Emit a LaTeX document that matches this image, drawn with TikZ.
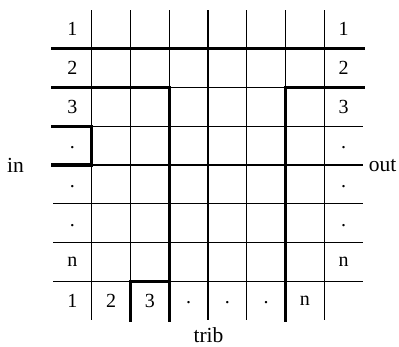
\documentclass[tikz,border=0pt]{standalone}
\usepackage{fontspec}
\setmainfont{Liberation Serif}
\begin{document}
\begin{tikzpicture}[x=1pt,y=-1pt,
  thin grid/.style={line width=1.2pt},
  thick path/.style={line width=3.2pt,line cap=rect,line join=miter},
  celltext/.style={font=\fontsize{20}{24}\selectfont,inner sep=0pt},
  dottext/.style={font=\fontsize{20}{24}\selectfont,inner sep=0pt,anchor=base},
  lbl/.style={font=\fontsize{21.5}{26}\selectfont,inner sep=0pt,anchor=base}]
\useasboundingbox (0,0) rectangle (399,346);
\foreach \i in {0,...,8}{
  \foreach \j in {0,...,8}{
    \coordinate (g-\i-\j) at ({53+38.75*\i},{10+38.75*\j});
  }
}
% thin grid
\foreach \i in {1,...,7}{
  \draw[thin grid] (g-\i-0) -- (g-\i-8);
  \draw[thin grid] (g-0-\i) -- (g-8-\i);
}
% thick paths
\draw[thick path] (g-0-1) -- (g-8-1);
\draw[thick path] (g-0-2) -- (g-3-2) -- (g-3-8);
\draw[thick path] (g-8-2) -- (g-6-2) -- (g-6-8);
\draw[thick path] (g-0-3) -- (g-1-3) -- (g-1-4) -- (g-0-4);
\draw[thick path] (g-2-8) -- (g-2-7) -- (g-3-7);
% row labels, left and right columns
\foreach \r/\t in {1/1,2/2,3/3,7/n}{
  \node[celltext] (L\r) at ({53+19.4},{10+38.75*\r-19.4}) {\t};
  \node[celltext] (R\r) at ({324.25+19.4},{10+38.75*\r-19.4}) {\t};
}
\foreach \r in {4,5,6}{
  \node[dottext] (L\r) at ({53+19.4},{10+38.75*\r-19.4+3}) {.};
  \node[dottext] (R\r) at ({324.25+19.4},{10+38.75*\r-19.4+3}) {.};
}
% bottom row
\foreach \c/\t in {1/1,2/2,3/3,7/n}{
  \node[celltext] (B\c) at ({53+38.75*\c-19.4},{300.6}) {\t};
}
\foreach \c in {4,5,6}{
  \node[dottext] (B\c) at ({53+38.75*\c-19.4},{303.6}) {.};
}
% outer labels
\node[lbl] (in) at (15.5,172) {in};
\node[lbl] (out) at (382.5,171) {out};
\node[lbl] (trib) at (208.5,342) {trib};
\end{tikzpicture}
\end{document}
